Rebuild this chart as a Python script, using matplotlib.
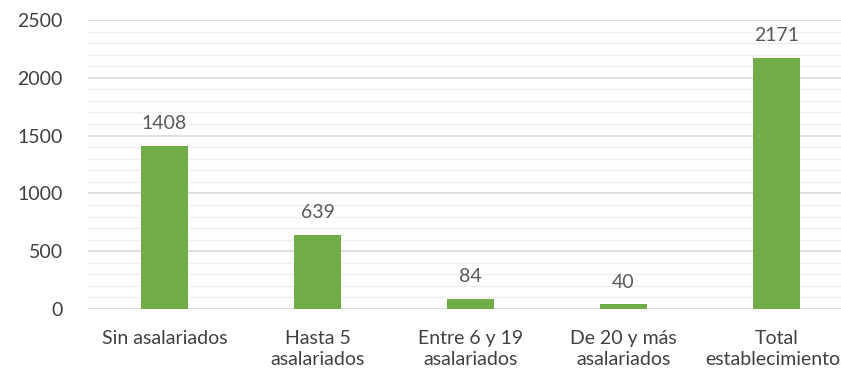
import matplotlib.pyplot as plt
from matplotlib.ticker import MultipleLocator

categories = ["Sin asalariados", "Hasta 5\nasalariados", "Entre 6 y 19\nasalariados",
              "De 20 y más\nasalariados", "Total\nestablecimientos"]
values = [1408, 639, 84, 40, 2171]

plt.rcParams["font.family"] = ["Lato", "DejaVu Sans"]

fig = plt.figure(figsize=(8.41, 3.72), dpi=100)
ax = fig.add_axes([88 / 841, 1 - 309 / 372, 765 / 841, 289 / 372])

x = range(len(categories))
ax.bar(x, values, width=0.31, color="#70AD47", zorder=3)
for xi, v in zip(x, values):
    ax.text(xi, v + 120, str(v), ha="center", va="bottom", fontsize=14, color="#595959")

ax.set_xlim(-0.5, len(categories) - 0.5)
ax.set_ylim(0, 2500)
ax.yaxis.set_major_locator(MultipleLocator(500))
ax.yaxis.set_minor_locator(MultipleLocator(100))
ax.grid(which="major", axis="y", color="#D9D9D9", linewidth=1.2, zorder=0)
ax.grid(which="minor", axis="y", color="#EFEFEF", linewidth=1.0, zorder=0)
ax.set_xticks(list(x))
ax.set_xticklabels(categories, fontsize=14, color="#404040", linespacing=1.3)
ax.tick_params(axis="y", labelsize=14, labelcolor="#404040", length=0, pad=18)
ax.tick_params(axis="x", length=0, pad=15)
ax.tick_params(which="minor", length=0)
for s in ax.spines.values():
    s.set_visible(False)

fig.savefig("out.png", dpi=100)
